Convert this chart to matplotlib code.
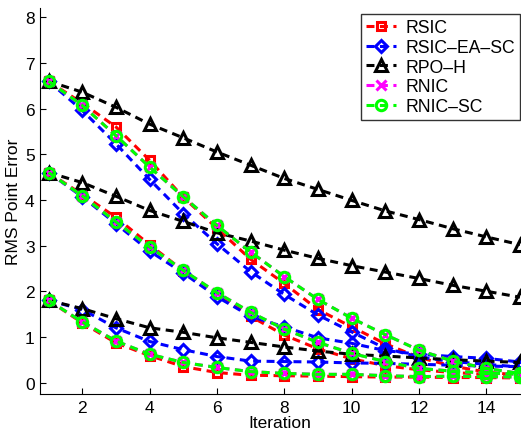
import matplotlib
matplotlib.use("Agg")
import matplotlib.pyplot as plt
import numpy as np

plt.rcParams['font.family'] = ['Liberation Sans', 'DejaVu Sans']

iterations = list(range(1, 16))
series_names = ["RSIC", "RSIC\u2013EA\u2013SC", "RPO\u2013H", "RNIC", "RNIC\u2013SC"]

# Group A (start 6.6)
rsic_a   = [6.6, 6.12, 5.60, 4.87, 4.06, 3.38, 2.70, 2.17, 1.60, 1.22, 0.85, 0.55, 0.36, 0.23, 0.16]
rsicea_a = [6.6, 5.96, 5.23, 4.45, 3.70, 3.04, 2.43, 1.93, 1.48, 1.11, 0.75, 0.56, 0.46, 0.40, 0.34]
rpoh_a   = [6.6, 6.36, 6.03, 5.66, 5.36, 5.05, 4.76, 4.47, 4.23, 3.99, 3.76, 3.57, 3.37, 3.19, 3.02]
rnic_a   = [6.6, 6.07, 5.41, 4.72, 4.07, 3.44, 2.86, 2.32, 1.82, 1.41, 1.05, 0.71, 0.47, 0.31, 0.20]
rnicsc_a = [6.6, 6.07, 5.41, 4.72, 4.07, 3.44, 2.86, 2.32, 1.82, 1.41, 1.05, 0.71, 0.47, 0.31, 0.20]

# Group B (start 4.6)
rsic_b   = [4.6, 4.12, 3.62, 3.02, 2.45, 1.95, 1.45, 1.04, 0.74, 0.52, 0.37, 0.28, 0.22, 0.18, 0.15]
rsicea_b = [4.6, 4.07, 3.48, 2.88, 2.40, 1.88, 1.45, 1.22, 0.98, 0.86, 0.70, 0.62, 0.57, 0.53, 0.45]
rpoh_b   = [4.6, 4.38, 4.08, 3.77, 3.53, 3.28, 3.10, 2.90, 2.72, 2.56, 2.42, 2.28, 2.13, 2.00, 1.87]
rnic_b   = [4.6, 4.09, 3.52, 2.97, 2.46, 1.97, 1.54, 1.17, 0.88, 0.64, 0.46, 0.31, 0.25, 0.21, 0.18]
rnicsc_b = [4.6, 4.09, 3.52, 2.97, 2.46, 1.97, 1.54, 1.17, 0.88, 0.64, 0.46, 0.31, 0.25, 0.21, 0.18]

# Group C (start 1.8)
rsic_c   = [1.8, 1.31, 0.87, 0.59, 0.35, 0.22, 0.16, 0.15, 0.14, 0.13, 0.12, 0.12, 0.11, 0.11, 0.10]
rsicea_c = [1.8, 1.60, 1.20, 0.90, 0.72, 0.57, 0.47, 0.46, 0.45, 0.43, 0.42, 0.40, 0.38, 0.36, 0.35]
rpoh_c   = [1.8, 1.62, 1.40, 1.20, 1.10, 0.98, 0.88, 0.78, 0.69, 0.62, 0.58, 0.54, 0.50, 0.47, 0.44]
rnic_c   = [1.8, 1.33, 0.91, 0.62, 0.44, 0.33, 0.24, 0.20, 0.18, 0.18, 0.15, 0.13, 0.14, 0.13, 0.12]
rnicsc_c = [1.8, 1.33, 0.91, 0.62, 0.44, 0.33, 0.24, 0.20, 0.18, 0.18, 0.15, 0.13, 0.14, 0.13, 0.12]

groups = [
    [rsic_a, rsicea_a, rpoh_a, rnic_a, rnicsc_a],
    [rsic_b, rsicea_b, rpoh_b, rnic_b, rnicsc_b],
    [rsic_c, rsicea_c, rpoh_c, rnic_c, rnicsc_c],
]

styles = [
    dict(color='#ff0000', marker='s', mfc='none', mec='#ff0000'),
    dict(color='#0000ff', marker='D', mfc='none', mec='#0000ff'),
    dict(color='#000000', marker='^', mfc='none', mec='#000000'),
    dict(color='#ff00ff', marker='x', mfc='none', mec='#ff00ff'),
    dict(color='#00ff00', marker='o', mfc='none', mec='#00ff00'),
]
msizes = [6, 6, 8.5, 6.5, 7.5]

fig = plt.figure(figsize=(5.21, 4.35), dpi=100)
ax = fig.add_axes([0.077, 0.092, 0.921, 0.887])

handles = []
for gi, grp in enumerate(groups):
    for si, vals in enumerate(grp):
        st = styles[si]
        ln, = ax.plot(iterations, vals, linestyle=(0, (2.6, 1.8)), linewidth=2.2,
                      color=st['color'], marker=st['marker'], markersize=msizes[si],
                      markerfacecolor=st['mfc'], markeredgecolor=st['mec'],
                      markeredgewidth=2.2, zorder=2 + si,
                      label=series_names[si] if gi == 0 else None, clip_on=False)
        if gi == 0:
            handles.append(ln)

ax.set_xlim(0.75, 15)
ax.set_ylim(-0.25, 8.2)
ax.set_xticks([2, 4, 6, 8, 10, 12, 14])
ax.set_yticks([0, 1, 2, 3, 4, 5, 6, 7, 8])
ax.tick_params(direction='in', length=4, labelsize=12.5, width=0.8, pad=4)
ax.spines['top'].set_visible(False)
ax.spines['right'].set_visible(False)
ax.set_xlabel("Iteration", fontsize=12.5, labelpad=0)
ax.set_ylabel("RMS Point Error", fontsize=12.5, labelpad=3)

leg = ax.legend(handles=handles, loc='upper right', bbox_to_anchor=(1.0, 0.985),
                fontsize=12.7, frameon=True, fancybox=False, edgecolor='black',
                handlelength=1.7, handletextpad=0.5, labelspacing=0.15,
                borderpad=0.3, borderaxespad=0.0)
leg.get_frame().set_linewidth(1.0)
leg.set_zorder(20)

fig.savefig("out.png", dpi=100)
